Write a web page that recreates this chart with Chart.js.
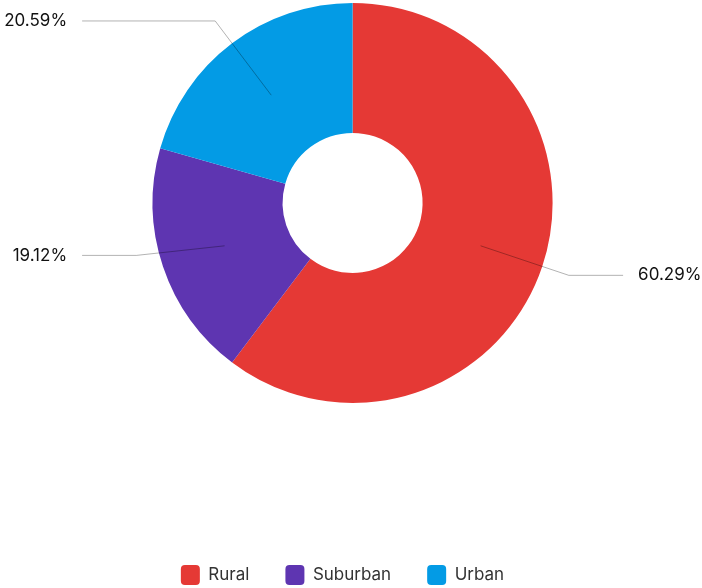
<!DOCTYPE html>
<html>
<head>
<meta charset="utf-8">
<script src="https://cdn.jsdelivr.net/npm/chart.js@4.4.1/dist/chart.umd.min.js"></script>
<style>
  html, body { margin: 0; padding: 0; background: #fff; }
  #wrap { width: 702px; height: 588px; position: relative; }
</style>
</head>
<body>
<div id="wrap"><canvas id="areaChart"></canvas></div>
<script>
var categories = ['Rural', 'Suburban', 'Urban'];
var shares = [60.29, 19.12, 20.59];
var sliceColors = ['#E53935', '#5E35B1', '#039BE5'];

// leader lines: start mid-ring, bend just outside the ring, then run flat to the text
var leaderLabels = {
    id: 'leaderLabels',
    afterDatasetsDraw(chart, args, opts) {
        const ctx = chart.ctx;
        const meta = chart.getDatasetMeta(0);
        ctx.save();
        ctx.font = opts.font;
        ctx.textBaseline = 'middle';
        meta.data.forEach((arc, i) => {
            const p = arc.getProps(['x', 'y', 'startAngle', 'endAngle', 'innerRadius', 'outerRadius'], true);
            const mid = (p.startAngle + p.endAngle) / 2;
            const rStart = (p.innerRadius + p.outerRadius) / 2;
            const rBend = p.outerRadius + opts.bendOffset;
            const sx = p.x + Math.cos(mid) * rStart;
            const sy = p.y + Math.sin(mid) * rStart;
            const bx = p.x + Math.cos(mid) * rBend;
            const by = p.y + Math.sin(mid) * rBend + (opts.bendShift[i] || 0);
            const right = Math.cos(mid) >= 0;
            const reach = p.outerRadius + opts.lineReach;
            const ex = right ? p.x + reach : p.x - reach;

            ctx.strokeStyle = opts.lineColor;
            ctx.lineWidth = 1;
            ctx.beginPath();
            ctx.moveTo(sx, sy);
            ctx.lineTo(bx, by);
            ctx.lineTo(ex, by);
            ctx.stroke();

            ctx.fillStyle = opts.color;
            ctx.textAlign = right ? 'left' : 'right';
            const tx = right ? ex + opts.gap : ex - opts.gap;
            ctx.fillText(shares[i].toFixed(2) + '%', tx, by);
        });
        ctx.restore();
    }
};

var ctx = document.getElementById('areaChart');
var chart = new Chart(ctx, {
    type: 'doughnut',
    data: {
        labels: categories,
        datasets: [{
            data: shares,
            backgroundColor: sliceColors,
            borderWidth: 0,
            hoverOffset: 0
        }]
    },
    options: {
        responsive: true,
        maintainAspectRatio: false,
        animation: false,
        cutout: '35%',
        radius: 200,
        layout: {
            padding: { top: 2, bottom: -7, left: 3, right: 20 }
        },
        plugins: {
            // empty boxes used as spacers: one under the ring, one on the left
            title: {
                display: true,
                position: 'bottom',
                text: ' ',
                font: { size: 1 },
                padding: { top: 124, bottom: 0 }
            },
            subtitle: {
                display: true,
                position: 'left',
                fullSize: false,
                text: ' ',
                font: { size: 1 },
                padding: { top: 0, bottom: 19 }
            },
            legend: {
                display: true,
                position: 'bottom',
                weight: 3000,
                labels: {
                    font: { family: 'Inter', size: 17 },
                    color: '#333',
                    boxWidth: 19,
                    boxHeight: 20,
                    useBorderRadius: true,
                    borderRadius: 4,
                    padding: 36
                }
            },
            tooltip: { enabled: false },
            leaderLabels: {
                font: '17px Inter',
                color: '#111',
                lineColor: 'rgba(0,0,0,0.3)',
                bendOffset: 28,
                bendShift: [0, -20, 0],
                lineReach: 70.5,
                gap: 15
            }
        }
    },
    plugins: [leaderLabels]
});
</script>
</body>
</html>
